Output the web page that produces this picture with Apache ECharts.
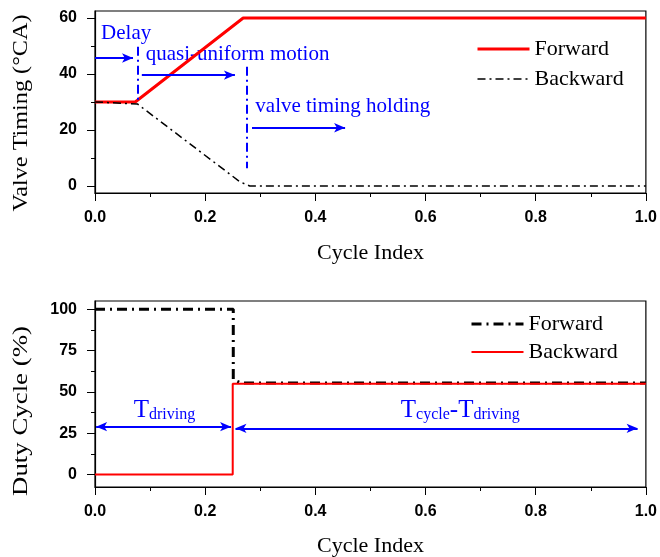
<!DOCTYPE html>
<html><head><meta charset="utf-8">
<script src="https://cdn.jsdelivr.net/npm/echarts@6/dist/echarts.min.js"></script>
<style>html,body{margin:0;padding:0;background:#fff}#c{width:660px;height:557px}</style>
</head><body><div id="c"></div>
<script>
// ---- data ----
const vtForwardX = [0, 0.073, 0.269, 1.0];
const vtForwardY = [30, 30, 60, 60];
const vtBackwardX = [0, 0.077, 0.263, 0.281, 1.0];
const vtBackwardY = [30, 29.3, 1.5, 0, 0];
const dcForwardX = [0, 0.251, 0.251, 0.265, 1.0];
const dcForwardY = [100, 100, 57.5, 55.4, 55.4];
const dcBackwardX = [0, 0.25, 0.25, 1.0];
const dcBackwardY = [0, 0, 55, 55];
const xTickLabels = [0, 0.2, 0.4, 0.6, 0.8, 1.0];
const vtTickLabels = [0, 20, 40, 60];
const vtMinorTicks = [10, 30, 50];
const dcTickLabels = [0, 25, 50, 75, 100];
const dcMinorTicks = [12.5, 37.5, 62.5, 87.5];
// annotations (data coordinates)
const vtArrows = [[[0, 45.7], [0.069, 45.7]], [[0.085, 39.6], [0.254, 39.6]], [[0.285, 20.8], [0.454, 20.8]]];
const vtPhaseLines = [[[0.0775, 49.7], [0.0775, 29.6]], [[0.275, 42.6], [0.275, 6.3]]];
const vtNotes = [['Delay', 0.011, 54.5], ['quasi-uniform motion', 0.092, 46.8], ['valve timing holding', 0.291, 28.4]];
const dcArrows = [[[0.002, 29], [0.247, 29]], [[0.255, 28], [0.985, 28]]];
const dcNotes = [['{T|T}{s|driving}', 0.126, 39], ['{T|T}{s|cycle}{T|-T}{s|driving}', 0.663, 39]];

const zip = (xs, ys) => xs.map((x, i) => [x, ys[i]]);
const BLUE = '#0000ff';
const SERIF = '"Liberation Serif", "Times New Roman", serif';
const SANS = '"Liberation Sans", Arial, sans-serif';

function xAx(gi) {
  return {
    type: 'value', gridIndex: gi, min: 0, max: 1, interval: 0.2,
    axisLine: { show: true, onZero: false, lineStyle: { color: '#000', width: 1.2 } },
    axisTick: { show: true, length: 8, lineStyle: { color: '#000' } },
    minorTick: { show: true, splitNumber: 2, length: 4, lineStyle: { color: '#000' } },
    splitLine: { show: false }, minorSplitLine: { show: false },
    axisLabel: { customValues: xTickLabels, margin: 17, fontFamily: SANS, fontWeight: 'bold', fontSize: 16, color: '#000',
      formatter: v => v.toFixed(1) }
  };
}
function yAx(gi, min, max, ticks) {
  return {
    type: 'value', gridIndex: gi, min, max, position: 'left',
    axisLine: { show: true, onZero: false, lineStyle: { color: '#000', width: 1.2 } },
    axisTick: { show: true, length: 8, customValues: ticks, lineStyle: { color: '#000' } },
    axisLabel: { customValues: ticks, margin: 18, fontFamily: SANS, fontWeight: 'bold', fontSize: 16, color: '#000' },
    splitLine: { show: false }
  };
}
function yMinor(gi, min, max, ticks) {
  return {
    type: 'value', gridIndex: gi, min, max, position: 'left',
    axisLine: { show: false },
    axisTick: { show: true, length: 4, customValues: ticks, lineStyle: { color: '#000' } },
    axisLabel: { show: false }, splitLine: { show: false }
  };
}
const arrowItem = (a, both) => [
  { coord: a[0], symbol: both ? 'arrow' : 'none' },
  { coord: a[1], symbol: 'arrow' }
];
const phaseItem = (a) => [
  { coord: a[0], symbol: 'none', lineStyle: { color: BLUE, width: 2, type: [9, 4, 2, 4] } },
  { coord: a[1], symbol: 'none' }
];

const chart = echarts.init(document.getElementById('c'), null, { renderer: 'canvas' });
const legendText = { fontFamily: SERIF, fontSize: 22, color: '#000', lineHeight: 22 };
const legendBase = { orient: 'vertical', padding: 0, itemWidth: 52, itemHeight: 14, textStyle: legendText,
  formatter: n => n.replace(/ \(.*\)$/, ''), lineStyle: { width: 'inherit' },
  itemStyle: { color: 'transparent', borderColor: 'transparent', borderWidth: 0, opacity: 0 }, selectedMode: false };
chart.setOption({
  animation: false,
  backgroundColor: '#fff',
  grid: [
    { left: 95, top: 11, width: 551, height: 182, show: true, borderColor: '#000', borderWidth: 1.2 },
    { left: 95, top: 301, width: 551, height: 186, show: true, borderColor: '#000', borderWidth: 1.2 }
  ],
  xAxis: [xAx(0), xAx(1)],
  yAxis: [yAx(0, -2.5, 62.5, vtTickLabels), yMinor(0, -2.5, 62.5, vtMinorTicks),
          yAx(1, -7.5, 105, dcTickLabels), yMinor(1, -7.5, 105, dcMinorTicks)],
  legend: [
    Object.assign({ data: ['Forward (VT)', 'Backward (VT)'], left: 476, top: 38, itemGap: 8 }, legendBase),
    Object.assign({ data: ['Forward (DC)', 'Backward (DC)'], left: 470, top: 313, itemGap: 6 }, legendBase)
  ],
  series: [
    { name: 'Forward (VT)', type: 'line', xAxisIndex: 0, yAxisIndex: 0, data: zip(vtForwardX, vtForwardY),
      symbol: 'none', lineStyle: { color: '#ff0000', width: 3 }, itemStyle: { color: '#ff0000' }, z: 2,
      markLine: { silent: true, animation: false, symbolSize: [7, 11], label: { show: false },
        lineStyle: { color: BLUE, width: 2, type: 'solid' },
        data: vtArrows.map(a => arrowItem(a, false)).concat(vtPhaseLines.map(phaseItem)) } },
    { name: 'Backward (VT)', type: 'line', xAxisIndex: 0, yAxisIndex: 0, data: zip(vtBackwardX, vtBackwardY),
      symbol: 'none', lineStyle: { color: '#000', width: 1.5, type: [8, 4, 2, 4] }, itemStyle: { color: '#000' }, z: 3 },
    { name: 'Forward (DC)', type: 'line', xAxisIndex: 1, yAxisIndex: 2, data: zip(dcForwardX, dcForwardY),
      symbol: 'none', lineStyle: { color: '#000', width: 3, type: [10, 5, 2, 5] }, itemStyle: { color: '#000' }, z: 2 },
    { name: 'Backward (DC)', type: 'line', xAxisIndex: 1, yAxisIndex: 2, data: zip(dcBackwardX, dcBackwardY),
      symbol: 'none', lineStyle: { color: '#ff0000', width: 2 }, itemStyle: { color: '#ff0000' }, z: 3,
      markLine: { silent: true, animation: false, symbolSize: [7, 11], label: { show: false },
        lineStyle: { color: BLUE, width: 2, type: 'solid' },
        data: dcArrows.map(a => arrowItem(a, true)) } }
  ]
});

// annotation & axis-title text
const g = [];
const titleStyle = (t) => ({ text: t, fontFamily: SERIF, fontSize: 22, fill: '#000', align: 'center', verticalAlign: 'middle',
  textAlign: 'center', textVerticalAlign: 'middle' });
g.push({ type: 'text', x: 21, y: 113, rotation: Math.PI / 2, scaleX: 1.1, style: titleStyle('Valve Timing (°CA)') });
g.push({ type: 'text', x: 21, y: 411, rotation: Math.PI / 2, scaleX: 1.22, style: titleStyle('Duty Cycle (%)') });
g.push({ type: 'text', x: 370.5, y: 253, style: titleStyle('Cycle Index') });
g.push({ type: 'text', x: 370.5, y: 546, style: titleStyle('Cycle Index') });
vtNotes.forEach(([t, x, y]) => {
  const p = chart.convertToPixel({ xAxisIndex: 0, yAxisIndex: 0 }, [x, y]);
  g.push({ type: 'text', x: p[0], y: p[1], style: { text: t, fontFamily: SERIF, fontSize: 21, fill: BLUE,
    align: 'left', verticalAlign: 'middle', textAlign: 'left', textVerticalAlign: 'middle' } });
});
dcNotes.forEach(([t, x, y]) => {
  const p = chart.convertToPixel({ xAxisIndex: 1, yAxisIndex: 2 }, [x, y]);
  g.push({ type: 'text', x: p[0], y: p[1], style: { text: t, fill: BLUE, align: 'center', verticalAlign: 'middle',
    textAlign: 'center', textVerticalAlign: 'middle',
    rich: { T: { fontFamily: SERIF, fontSize: 25, fill: BLUE, color: BLUE, verticalAlign: 'bottom', lineHeight: 25 },
            s: { fontFamily: SERIF, fontSize: 16, fill: BLUE, color: BLUE, verticalAlign: 'bottom', lineHeight: 19 } } } });
});
chart.setOption({ graphic: g });
</script></body></html>
